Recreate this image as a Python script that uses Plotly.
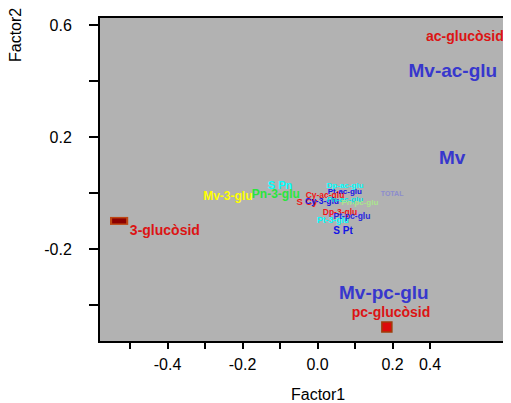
import plotly.graph_objects as go

# ---- data ----
labels = ["ac-glucòsid", "Mv-ac-glu", "Mv", "TOTAL", "Mv-3-glu", "Pn-3-glu", "S Pn",
          "3-glucòsid", "Mv-pc-glu", "pc-glucòsid",
          "Dp-ac-glu", "Pt-ac-glu", "Cy-ac-glu", "S Cy", "Cy-3-glu", "Pn-ac-glu",
          "Pn-pc-glu", "Dp-pc-glu", "Dp-3-glu", "Pt-3-glu", "Pt-pc-glu", "S Pt"]
factor1 = [0.393, 0.361, 0.359, 0.199, -0.239, -0.111, -0.100,
           -0.407, 0.177, 0.196,
           0.073, 0.073, 0.020, -0.028, 0.012, 0.073,
           0.113, 0.075, 0.060, 0.041, 0.092, 0.068]
factor2 = [0.557, 0.432, 0.121, -0.004, -0.014, -0.007, 0.025,
           -0.139, -0.361, -0.429,
           0.025, 0.004, -0.011, -0.036, -0.032, -0.025,
           -0.036, -0.079, -0.071, -0.100, -0.086, -0.136]

marker_names = ["3-glucòsid", "pc-glucòsid"]
marker_f1 = [-0.529, 0.185]
marker_f2 = [-0.100, -0.479]

x_tickvals = [-0.5, -0.4, -0.3, -0.2, -0.1, 0.0, 0.1, 0.2, 0.3]
x_ticktext = ["", "-0.4", "", "-0.2", "", "0.0", "", "0.2", "0.4"]
y_tickvals = [0.6, 0.4, 0.2, 0.0, -0.2, -0.4]
y_ticktext = ["0.6", "", "0.2", "", "-0.2", ""]

# ---- styles ----
RED = "rgb(220,20,20)"
BLUE = "rgb(55,55,205)"
label_colors = [RED, BLUE, BLUE, "rgb(140,140,205)", "rgb(255,255,0)", "rgb(40,230,60)", "rgb(0,255,255)",
                RED, BLUE, RED,
                "rgb(0,255,255)", "rgb(20,20,230)", "rgb(240,20,20)", "rgb(240,20,20)", "rgb(20,20,230)",
                "rgb(0,230,230)", "rgb(170,230,140)", "rgb(170,160,220)", "rgb(240,20,20)", "rgb(0,255,255)",
                "rgb(40,40,220)", "rgb(20,20,230)"]
label_sizes = [14, 19, 19, 7, 12, 12, 11,
               14, 19, 14,
               8, 8, 8.5, 9.5, 8.5, 8,
               8, 8, 8.5, 8.5, 8.5, 10]

FONT = "Liberation Sans, Arial, sans-serif"

fig = go.Figure()

# rectangle-like marker for 3-glucòsid (two stacked horizontal lines)
fig.add_trace(go.Scatter(x=marker_f1[:1], y=marker_f2[:1], mode="markers", hoverinfo="skip",
                         marker=dict(symbol="line-ew", size=13, line=dict(width=8, color="rgb(190,70,20)"))))
fig.add_trace(go.Scatter(x=marker_f1[:1], y=marker_f2[:1], mode="markers", hoverinfo="skip",
                         marker=dict(symbol="line-ew", size=10, line=dict(width=5, color="rgb(140,0,0)"))))
# square marker for pc-glucòsid
fig.add_trace(go.Scatter(x=marker_f1[1:], y=marker_f2[1:], mode="markers", hoverinfo="skip",
                         marker=dict(symbol="square", size=10, color="rgb(220,10,10)",
                                     line=dict(width=1.5, color="rgb(160,60,10)"))))

fig.add_trace(go.Scatter(
    x=factor1, y=factor2, mode="text", text=labels,
    textposition="middle center",
    textfont=dict(family=FONT, size=label_sizes, color=label_colors, weight="bold"),
    hoverinfo="text"))

# The page body has an 8px margin, so the figure is sized to fill the 511x403 window from (8,8).
fig.update_layout(
    width=503, height=395,
    margin=dict(l=92, r=0, t=10, b=62),
    paper_bgcolor="white",
    plot_bgcolor="rgb(178,178,178)",
    showlegend=False,
    font=dict(family=FONT, size=16, color="black"),
    xaxis=dict(range=[-0.58, 0.516], tickvals=x_tickvals, ticktext=x_ticktext,
               ticks="outside", ticklen=6, tickwidth=1.5, tickcolor="black",
               showgrid=False, zeroline=False, showline=True, linecolor="black",
               linewidth=2, mirror=True, tickfont=dict(size=16), ticklabelstandoff=2),
    yaxis=dict(range=[-0.529, 0.625], tickvals=y_tickvals, ticktext=y_ticktext,
               ticks="outside", ticklen=9, tickwidth=1.5, tickcolor="black",
               showgrid=False, zeroline=False, showline=True, linecolor="black",
               linewidth=2, tickfont=dict(size=16), ticklabelstandoff=14),
    annotations=[
        dict(text="Factor1", xref="paper", yref="paper", x=0.530, y=-0.167,
             xanchor="center", yanchor="middle", showarrow=False, font=dict(size=16)),
        dict(text="Factor2", xref="paper", yref="paper", x=-0.207, y=0.947,
             xanchor="center", yanchor="middle", textangle=-90, showarrow=False, font=dict(size=16)),
    ],
)

fig.write_html("out.html")
